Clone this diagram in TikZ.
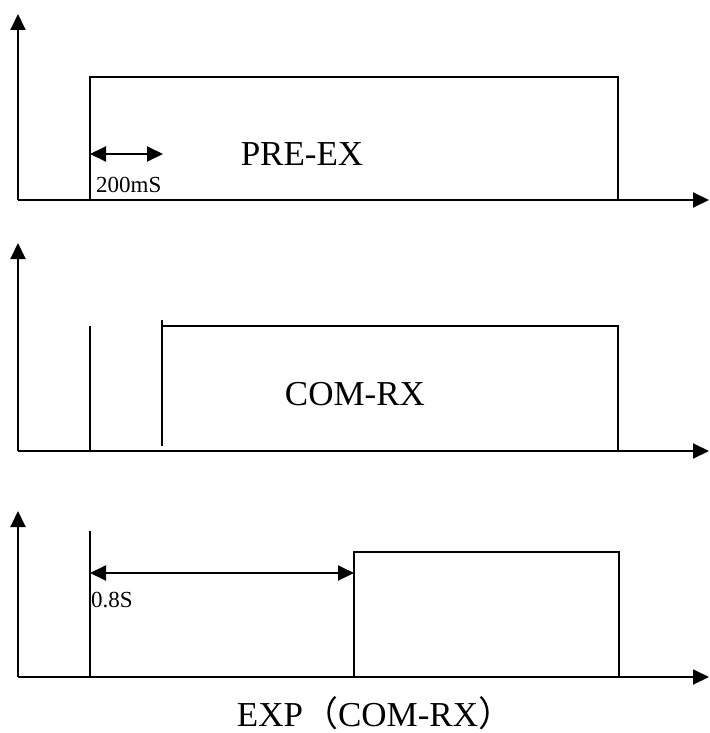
\documentclass[tikz,border=0pt]{standalone}
\usepackage{fontspec}
\setmainfont{Liberation Serif}
\newfontfamily\cjk{Noto Sans CJK SC}
\usetikzlibrary{arrows.meta}
\tikzset{
  axis/.style={line width=1.9pt, -{Triangle[length=16pt,width=15pt]}},
  sig/.style={line width=1.6pt},
  dim/.style={line width=1.9pt, {Triangle[length=16pt,width=15pt]}-{Triangle[length=16pt,width=15pt]}},
  big/.style={font=\fontsize{35}{40}\selectfont, inner sep=0pt},
  small/.style={font=\fontsize{23}{26}\selectfont, inner sep=0pt}
}
\begin{document}
\begin{tikzpicture}[x=1pt,y=-1pt]
\useasboundingbox (0,0) rectangle (709,733);
% panel 1
\coordinate (o1) at (18,200);
\coordinate (y1) at (18,14);
\coordinate (x1) at (709,200);
\draw[axis] (o1) -- (y1);
\draw[axis] (o1) -- (x1);
\draw[sig] (90,200) -- (90,77) -- (618,77) -- (618,200);
\coordinate (a1) at (90,154);
\coordinate (b1) at (163,154);
\draw[dim] (a1) -- (b1);
\node[small, anchor=west] (t200) at (96,185) {200mS};
\node[big] (pre) at (302,154) {PRE-EX};
% panel 2
\coordinate (o2) at (18,451);
\coordinate (y2) at (18,243);
\coordinate (x2) at (709,451);
\draw[axis] (o2) -- (y2);
\draw[axis] (o2) -- (x2);
\draw[sig] (90,451) -- (90,326);
\draw[sig] (162,446) -- (162,320);
\draw[sig] (162,326) -- (618,326) -- (618,451);
\node[big] (com) at (355,394) {COM-RX};
% panel 3
\coordinate (o3) at (18,677);
\coordinate (y3) at (18,511);
\coordinate (x3) at (709,677);
\draw[axis] (o3) -- (y3);
\draw[axis] (o3) -- (x3);
\draw[sig] (90,677) -- (90,531);
\draw[sig] (354,677) -- (354,552) -- (619,552) -- (619,677);
\coordinate (a3) at (90,573);
\coordinate (b3) at (354,573);
\draw[dim] (a3) -- (b3);
\node[small, anchor=west] (t08) at (91,600) {0.8S};
\node[big, anchor=base] (exp) at (375,726) {EXP{\cjk （}COM-RX{\cjk ）}};
\end{tikzpicture}
\end{document}
